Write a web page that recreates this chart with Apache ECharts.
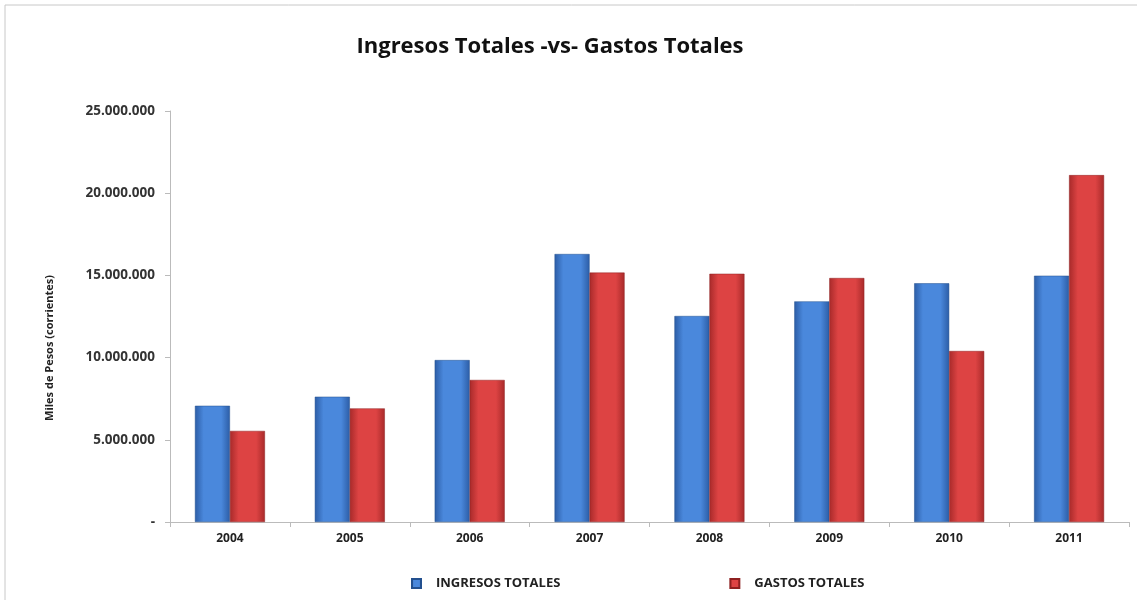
<!DOCTYPE html>
<html>
<head>
<meta charset="utf-8">
<script src="https://cdn.jsdelivr.net/npm/echarts@6/dist/echarts.min.js"></script>
<style>
  html, body { margin: 0; padding: 0; background: #fff; }
  #chart { width: 1137px; height: 600px; }
</style>
</head>
<body>
<div id="chart"></div>
<script>
const years = ['2004', '2005', '2006', '2007', '2008', '2009', '2010', '2011'];
const ingresos = [7070000, 7620000, 9850000, 16300000, 12530000, 13420000, 14520000, 14980000];
const gastos = [5540000, 6910000, 8640000, 15170000, 15100000, 14840000, 10400000, 21100000];
const seriesNames = ['INGRESOS TOTALES', 'GASTOS TOTALES'];

const bevel = (dark, light) => ({
    type: 'linear', x: 0, y: 0, x2: 1, y2: 0,
    colorStops: [
        { offset: 0, color: dark },
        { offset: 0.25, color: light },
        { offset: 0.75, color: light },
        { offset: 1, color: dark }
    ]
});

// 25000000 -> "25.000.000", 0 -> "-"
const fmt = v => v === 0 ? '-' : String(v).replace(/\B(?=(\d{3})+(?!\d))/g, '.');

const chart = echarts.init(document.getElementById('chart'));
chart.setOption({
    animation: false,
    backgroundColor: '#fff',
    title: {
        text: 'Ingresos Totales -vs- Gastos Totales',
        left: 545,
        top: 31,
        textAlign: 'center',
        textStyle: { fontFamily: 'Open Sans', fontWeight: 'bold', fontSize: 22, color: '#111' }
    },
    legend: {
        left: 406,
        top: 572,
        itemWidth: 9,
        itemHeight: 9,
        itemGap: 169,
        icon: 'rect',
        textStyle: { fontFamily: 'Open Sans', fontWeight: 'bold', fontSize: 13, color: '#222', padding: [0, 0, 0, 10] },
        data: seriesNames
    },
    grid: { left: 170, right: 8, top: 111, bottom: 78 },
    xAxis: {
        type: 'category',
        data: years,
        axisLine: { lineStyle: { color: '#bbb' } },
        axisTick: { show: true, length: 5, lineStyle: { color: '#bbb' } },
        axisLabel: { margin: 11, fontFamily: 'Open Sans', fontWeight: 'bold', fontSize: 12, color: '#222' }
    },
    yAxis: {
        type: 'value',
        min: 0,
        max: 25000000,
        interval: 5000000,
        splitLine: { show: false },
        axisLine: { show: true, lineStyle: { color: '#bbb' } },
        axisTick: { show: true, length: 5, lineStyle: { color: '#bbb' } },
        axisLabel: { margin: 15, formatter: fmt, fontFamily: 'Open Sans', fontWeight: 'bold', fontSize: 13.5, color: '#333' }
    },
    graphic: [
        {
            type: 'text',
            x: 50,
            y: 348,
            rotation: Math.PI / 2,
            style: {
                text: 'Miles de Pesos (corrientes)',
                fontFamily: 'Open Sans',
                fontWeight: 'bold',
                fontSize: 11,
                fill: '#222',
                align: 'center',
                verticalAlign: 'middle'
            }
        },
        {
            type: 'rect',
            shape: { x: 5, y: 5, width: 1200, height: 700 },
            style: { fill: 'none', stroke: '#c8c8c8', lineWidth: 1 },
            silent: true
        }
    ],
    series: [
        {
            name: seriesNames[0],
            type: 'bar',
            data: ingresos,
            barWidth: 35,
            barGap: '0%',
            itemStyle: { color: bevel('#2c5da6', '#4a88dc'), borderColor: '#23508f', borderWidth: 0.5 }
        },
        {
            name: seriesNames[1],
            type: 'bar',
            data: gastos,
            barWidth: 35,
            itemStyle: { color: bevel('#a82a2a', '#dd4343'), borderColor: '#8e2020', borderWidth: 0.5 }
        }
    ]
});
</script>
</body>
</html>
